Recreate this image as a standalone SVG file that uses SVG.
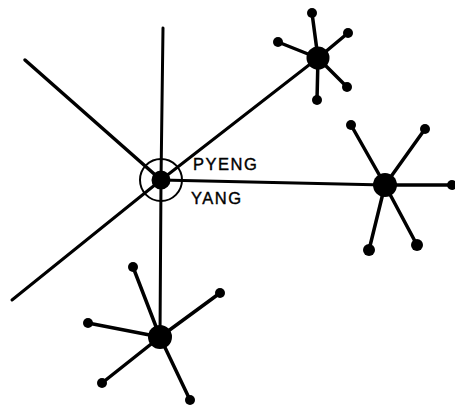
<svg xmlns="http://www.w3.org/2000/svg" width="455" height="405" viewBox="0 0 455 405">
<style>
.l{stroke:#000;stroke-width:3;stroke-linecap:round;fill:none}
.s{stroke:#000;stroke-width:3.5;stroke-linecap:round;fill:none}
.h{fill:#000}
.t{font-family:"Liberation Sans",Arial,sans-serif;font-size:16.5px;letter-spacing:1.5px;fill:#000;stroke:#000;stroke-width:0.4}
</style>
<rect width="455" height="405" fill="#fff"/>
<g id="connectors">
<line class="l" x1="161" y1="180" x2="163" y2="28"/>
<line class="l" x1="161" y1="180" x2="25" y2="60" style="stroke-width:3.5"/>
<line class="l" x1="161" y1="180" x2="12" y2="300"/>
<line class="l" x1="161" y1="180" x2="160" y2="337"/>
<line class="l" x1="161" y1="180" x2="385" y2="185"/>
<line class="l" x1="161" y1="180" x2="318" y2="58"/>
</g>
<g id="pyengyang">
<circle cx="161" cy="180" r="21" fill="none" stroke="#000" stroke-width="2"/>
<circle class="h" cx="161" cy="180" r="9.5"/>
<text class="t" x="193" y="170">PYENG</text>
<text class="t" x="191" y="204">YANG</text>
</g>
<g id="hub-ne">
<line class="s" x1="318" y1="58" x2="312" y2="13"/>
<line class="s" x1="318" y1="58" x2="348" y2="33"/>
<line class="s" x1="318" y1="58" x2="278" y2="42"/>
<line class="s" x1="318" y1="58" x2="347" y2="87"/>
<line class="s" x1="318" y1="58" x2="317" y2="100"/>
<circle class="h" cx="318" cy="58" r="11.5"/>
<circle class="h" cx="312" cy="13" r="5"/>
<circle class="h" cx="348" cy="33" r="5"/>
<circle class="h" cx="278" cy="42" r="5"/>
<circle class="h" cx="347" cy="87" r="5"/>
<circle class="h" cx="317" cy="100" r="5"/>
</g>
<g id="hub-e">
<line class="s" x1="385" y1="185" x2="351" y2="125"/>
<line class="s" x1="385" y1="185" x2="425" y2="129"/>
<line class="s" x1="385" y1="185" x2="452" y2="185"/>
<line class="s" x1="385" y1="185" x2="369" y2="250"/>
<line class="s" x1="385" y1="185" x2="417" y2="245"/>
<circle class="h" cx="385" cy="185" r="12"/>
<circle class="h" cx="351" cy="125" r="5"/>
<circle class="h" cx="425" cy="129" r="5"/>
<circle class="h" cx="452" cy="185" r="5"/>
<circle class="h" cx="369" cy="250" r="6"/>
<circle class="h" cx="417" cy="245" r="6"/>
</g>
<g id="hub-s">
<line class="s" x1="160" y1="337" x2="133" y2="267"/>
<line class="s" x1="160" y1="337" x2="88" y2="323"/>
<line class="s" x1="160" y1="337" x2="220" y2="293"/>
<line class="s" x1="160" y1="337" x2="102" y2="383"/>
<line class="s" x1="160" y1="337" x2="190" y2="400"/>
<circle class="h" cx="160" cy="337" r="12"/>
<circle class="h" cx="133" cy="267" r="5"/>
<circle class="h" cx="88" cy="323" r="5"/>
<circle class="h" cx="220" cy="293" r="5"/>
<circle class="h" cx="102" cy="383" r="5"/>
<circle class="h" cx="190" cy="400" r="5"/>
</g>
</svg>
